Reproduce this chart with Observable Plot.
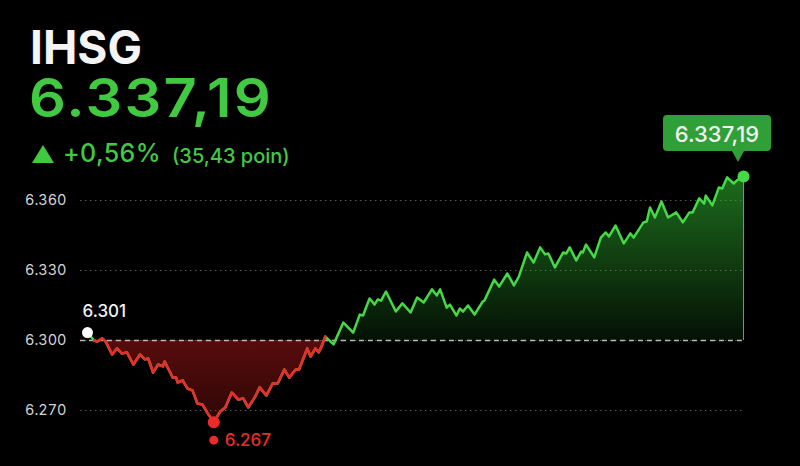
<!DOCTYPE html>
<html>
<head>
<meta charset="utf-8">
<script src="https://cdn.jsdelivr.net/npm/d3@7"></script>
<script src="https://cdn.jsdelivr.net/npm/@observablehq/plot@0.6"></script>
<style>
  html, body { margin: 0; padding: 0; background: #000; }
  #wrap { position: relative; width: 800px; height: 466px; background: #000; overflow: hidden; font-family: Inter, "Noto Sans", sans-serif; }
  #chart { position: absolute; left: 0; top: 0; }
  .h { position: absolute; line-height: 1; white-space: nowrap; }
  #title { left: 30px; top: 24px; font-size: 46px; font-weight: 700; color: #f4f4f4; }
  #value { left: 29px; top: 72px; font-size: 53px; font-weight: 600; color: #42c942; letter-spacing: 2px; transform: scaleX(1.09); transform-origin: 0 50%; }
  #tri { left: 32px; top: 145px; width: 0; height: 0; border-left: 11.5px solid transparent; border-right: 11.5px solid transparent; border-bottom: 18px solid #42c942; }
  #pct { left: 63px; top: 141px; font-size: 25px; font-weight: 500; color: #42c942; letter-spacing: 0.4px; }
  #pts { left: 172px; top: 145.5px; font-size: 20px; font-weight: 500; color: #42c942; }
</style>
</head>
<body>
<div id="wrap">
  <div id="chart"></div>
  <div class="h" id="title">IHSG</div>
  <div class="h" id="value">6.337,19</div>
  <div class="h" id="tri"></div>
  <div class="h" id="pct">+0,56%</div>
  <div class="h" id="pts">(35,43 poin)</div>
</div>
<script>
// Minutes since session open
const times = [0,4,6,9,11,15,18,21,24,28,32,35,37,40,43,46,47,52,54,55,58,61,64,67,70,73,77,81,84,88,92,95,98,102,105,109,113,116,120,123,127,129,134,136,139,141,143,145,150,156,162,166,168,172,175,177,179,182,188,192,197,201,205,210,213,215,219,221,225,227,229,232,236,241,242,248,251,256,260,263,268,272,276,279,281,285,290,292,294,298,301,302,304,309,313,316,318,322,327,331,333,339,341,343,346,350,354,359,363,367,369,373,376,377,381,385,387,390,394,396,400];
// Index level (points)
const values = [6303.4,6300.0,6299.6,6300.9,6299.6,6294.0,6296.6,6294.4,6294.9,6289.7,6294.0,6291.9,6292.3,6286.3,6289.7,6288.9,6291.0,6284.1,6284.1,6282.0,6282.9,6279.4,6278.6,6273.0,6272.6,6269.1,6265.0,6269.6,6271.3,6277.7,6274.7,6275.1,6271.3,6275.6,6279.9,6276.4,6281.6,6281.6,6287.6,6284.1,6287.6,6287.6,6296.6,6293.1,6296.6,6294.9,6297.9,6301.7,6298.3,6307.7,6303.4,6311.1,6310.7,6318.0,6315.4,6317.6,6317.1,6321.0,6312.4,6315.9,6312.0,6318.4,6316.3,6321.9,6319.3,6321.9,6314.1,6315.4,6310.7,6313.7,6312.4,6315.0,6311.1,6316.7,6317.1,6326.1,6323.1,6328.7,6323.6,6327.4,6337.7,6333.4,6339.9,6336.9,6337.3,6331.3,6337.7,6337.3,6339.9,6334.3,6338.1,6337.7,6341.1,6335.6,6344.1,6346.3,6344.6,6349.3,6341.6,6345.9,6344.1,6350.6,6351.0,6357.0,6352.7,6359.6,6352.7,6354.9,6350.6,6354.9,6354.9,6360.9,6358.7,6362.1,6357.9,6365.6,6365.1,6369.9,6367.3,6368.6,6370.3];
const baseline = 6300;
const tickValues = [6270, 6300, 6330, 6360];
const tickLabels = ["6.270", "6.300", "6.330", "6.360"];
const openLabel = "6.301";
const lowLabel = "6.267";
const lastLabel = "6.337,19";
const redUntil = 145; // minutes where the line is back above the open

const data = times.map((t, i) => ({t, v: values[i]}));
const first = data[0];
const last = data[data.length - 1];
const low = data.reduce((a, b) => (b.v < a.v ? b : a));
const redData = data.filter(d => d.t >= 4 && d.t <= redUntil);

const GREEN = "#46d946";
const RED = "#ee2a2a";

// tooltip-like label drawn through the scales
function lastTip(index, scales) {
  const cx = scales.x(last.t), cy = scales.y(last.v);
  const g = d3.create("svg:g");
  const left = cx - 80, right = cx + 28, top = cy - 61, bottom = cy - 25;
  const tipX = cx - 5;
  g.append("path")
    .attr("d", `M${left + 4},${top} H${right - 4} Q${right},${top} ${right},${top + 4} V${bottom - 4} Q${right},${bottom} ${right - 4},${bottom} H${tipX + 6} L${tipX},${bottom + 11} L${tipX - 6},${bottom} H${left + 4} Q${left},${bottom} ${left},${bottom - 4} V${top + 4} Q${left},${top} ${left + 4},${top} Z`)
    .attr("fill", "#2f9f37");
  g.append("text")
    .attr("x", (left + right) / 2).attr("y", (top + bottom) / 2 + 1)
    .attr("text-anchor", "middle").attr("dominant-baseline", "central")
    .attr("fill", "#f2f2f2").attr("font-size", 22).attr("font-weight", 500)
    .attr("font-family", "Inter, sans-serif")
    .text(lastLabel);
  return g.node();
}

const chart = Plot.plot({
  width: 800,
  height: 466,
  marginLeft: 87,
  marginRight: 57,
  marginTop: 106.667,
  marginBottom: 9.333,
  style: { background: "#000", color: "#ddd", fontFamily: "Inter, sans-serif" },
  x: { domain: [0, 400], axis: null },
  y: { domain: [6250, 6400], axis: null },
  marks: [
    () => {
      const defs = d3.create("svg:defs");
      const gg = defs.append("linearGradient").attr("id", "gradGreen").attr("x1", 0).attr("x2", 0).attr("y1", 0).attr("y2", 1);
      gg.append("stop").attr("offset", "0%").attr("stop-color", "#2fae2f").attr("stop-opacity", 0.62);
      gg.append("stop").attr("offset", "100%").attr("stop-color", "#2fae2f").attr("stop-opacity", 0.1);
      const gr = defs.append("linearGradient").attr("id", "gradRed").attr("x1", 0).attr("x2", 0).attr("y1", 0).attr("y2", 1);
      gr.append("stop").attr("offset", "0%").attr("stop-color", "#c41a1a").attr("stop-opacity", 0.45);
      gr.append("stop").attr("offset", "100%").attr("stop-color", "#c41a1a").attr("stop-opacity", 0.24);
      return defs.node();
    },
    Plot.ruleY(tickValues, { x1: -4.3, x2: 401, stroke: "#5a5a5a", strokeDasharray: "1.5,3.5", strokeWidth: 1 }),
    Plot.axisY({ ticks: tickValues, tickFormat: d => tickLabels[tickValues.indexOf(d)], tickSize: 0, tickPadding: 21, fontSize: 14.5, fill: "#d4d4d4", anchor: "left", label: null }),
    Plot.areaY(data, { x: "t", y1: () => baseline, y2: d => Math.max(d.v, baseline), fill: "url(#gradGreen)" }),
    Plot.areaY(redData, { x: "t", y1: () => baseline, y2: d => Math.min(d.v, baseline), fill: "url(#gradRed)" }),
    Plot.ruleY([baseline], { x1: -4.3, x2: 401, stroke: "#b8b8b8", strokeDasharray: "5,4", strokeWidth: 1.5 }),
    Plot.ruleX([last], { x: "t", y1: () => baseline, y2: "v", stroke: "#7d8f7d", strokeWidth: 1 }),
    Plot.line(data, { x: "t", y: "v", stroke: GREEN, strokeWidth: 2.5, strokeLinejoin: "round" }),
    Plot.line(redData, { x: "t", y: "v", stroke: RED, strokeWidth: 2.5, strokeLinejoin: "round" }),
    Plot.dot([first], { x: "t", y: "v", r: 5.5, fill: "#fff" }),
    Plot.text([first], { x: "t", y: "v", text: () => openLabel, dx: -5, dy: -21, textAnchor: "start", fill: "#f2f2f2", fontSize: 17, fontWeight: 500 }),
    Plot.dot([low], { x: "t", y: "v", r: 6, fill: RED }),
    Plot.dot([low], { x: "t", y: "v", r: 4.5, dy: 18, fill: RED }),
    Plot.text([low], { x: "t", y: "v", text: () => lowLabel, dx: 11, dy: 18, textAnchor: "start", fill: RED, fontSize: 17, fontWeight: 500 }),
    Plot.dot([last], { x: "t", y: "v", r: 6, fill: GREEN }),
    lastTip
  ]
});
document.getElementById("chart").appendChild(chart);
</script>
</body>
</html>
